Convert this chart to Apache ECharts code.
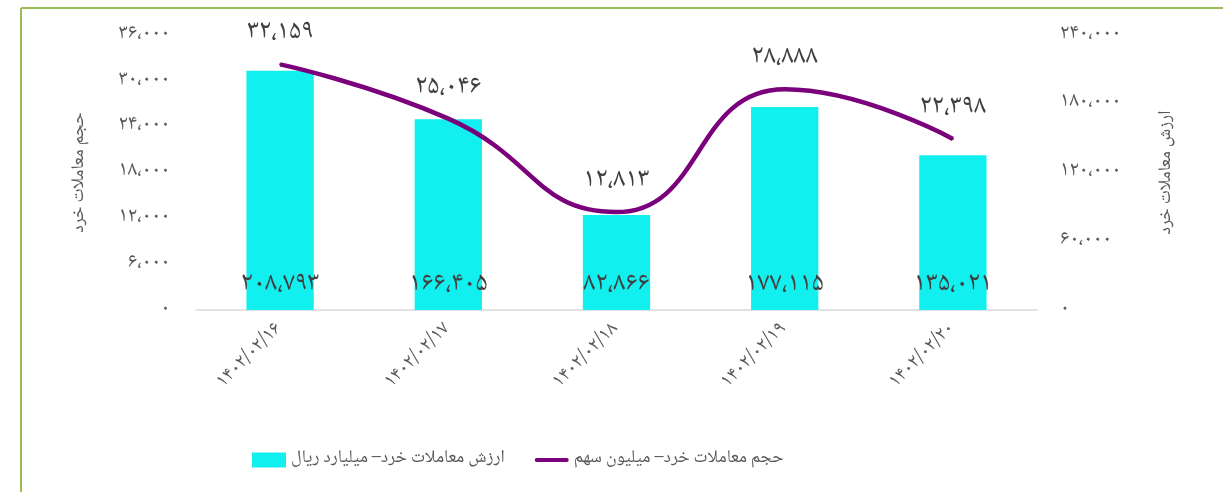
<!DOCTYPE html>
<html>
<head>
<meta charset="utf-8">
<script src="https://cdn.jsdelivr.net/npm/echarts@6/dist/echarts.min.js"></script>
<style>
html,body{margin:0;padding:0;background:#fff;}
#main{width:1223px;height:492px;}
</style>
</head>
<body>
<div id="main"></div>
<script>
var categories = ['۱۴۰۲/۰۲/۱۶', '۱۴۰۲/۰۲/۱۷', '۱۴۰۲/۰۲/۱۸', '۱۴۰۲/۰۲/۱۹', '۱۴۰۲/۰۲/۲۰'];
var tradeValue = [208793, 166405, 82866, 177115, 135021];   // ارزش معاملات خرد – میلیارد ریال
var tradeVolume = [32159, 25046, 12813, 28888, 22398];      // حجم معاملات خرد – میلیون سهم
var leftTicks = { min: 0, max: 36000, interval: 6000 };
var rightTicks = { min: 0, max: 240000, interval: 60000 };

var barName = 'ارزش معاملات خرد– میلیارد ریال';
var lineName = 'حجم معاملات خرد– میلیون سهم';

var FONT = '"Noto Naskh Arabic","Noto Sans Arabic","DejaVu Sans",sans-serif';

function toFa(n) {
  var s = String(Math.round(n)).replace(/\B(?=(\d{3})+(?!\d))/g, '،');
  return s.replace(/\d/g, function (d) { return '۰۱۲۳۴۵۶۷۸۹'[+d]; });
}

var chart = echarts.init(document.getElementById('main'), null, { renderer: 'canvas' });
chart.setOption({
  backgroundColor: '#ffffff',
  animation: false,
  textStyle: { fontFamily: FONT },
  graphic: [
    { type: 'line', shape: { x1: 21, y1: 8, x2: 21, y2: 492 }, style: { stroke: '#9BBB59', lineWidth: 2 } },
    { type: 'line', shape: { x1: 21, y1: 8, x2: 1223, y2: 8 }, style: { stroke: '#9BBB59', lineWidth: 2 } }
  ],
  grid: { left: 196, right: 186, top: 35, bottom: 182, containLabel: false },
  legend: {
    left: 247, top: 446,
    itemWidth: 34, itemHeight: 15, itemGap: 30,
    textStyle: { color: '#595959', fontSize: 18, fontFamily: FONT },
    data: [
      { name: barName, icon: 'rect' },
      { name: lineName, icon: 'path://M2,0 L38,0 A2.5,2.5 0 0 1 38,5 L2,5 A2.5,2.5 0 0 1 2,0 Z', itemStyle: { color: '#7B007B', opacity: 1 } }
    ]
  },
  xAxis: {
    type: 'category',
    data: categories,
    axisLine: { lineStyle: { color: '#D9D9D9', width: 1.5 } },
    axisTick: { show: false },
    axisLabel: { rotate: 45, color: '#595959', fontSize: 20, margin: 17, fontFamily: FONT }
  },
  yAxis: [
    {
      type: 'value', position: 'left',
      min: leftTicks.min, max: leftTicks.max, interval: leftTicks.interval,
      name: 'حجم معاملات خرد', nameLocation: 'middle', nameRotate: 90, nameGap: 106,
      nameTextStyle: { color: '#595959', fontSize: 18, fontFamily: FONT },
      axisLine: { show: false }, axisTick: { show: false }, splitLine: { show: false },
      axisLabel: { color: '#595959', fontSize: 21, margin: 26, formatter: toFa, fontFamily: FONT }
    },
    {
      type: 'value', position: 'right',
      min: rightTicks.min, max: rightTicks.max, interval: rightTicks.interval,
      name: 'ارزش معاملات خرد', nameLocation: 'middle', nameRotate: 90, nameGap: 122,
      nameTextStyle: { color: '#595959', fontSize: 18, fontFamily: FONT },
      axisLine: { show: false }, axisTick: { show: false }, splitLine: { show: false },
      axisLabel: { color: '#595959', fontSize: 21, margin: 23, formatter: toFa, fontFamily: FONT }
    }
  ],
  series: [
    {
      name: barName, type: 'bar', yAxisIndex: 1,
      data: tradeValue, barWidth: '40%',
      itemStyle: { color: '#11EFEF' },
      label: {
        show: true, position: 'insideBottom', distance: 10,
        color: '#404040', fontSize: 27, fontFamily: FONT,
        formatter: function (p) { return toFa(p.value); }
      }
    },
    {
      name: lineName, type: 'line', yAxisIndex: 0,
      data: tradeVolume, smooth: 0.5,
      symbol: 'circle', symbolSize: 2, showSymbol: true,
      lineStyle: { color: '#7B007B', width: 4.5 },
      itemStyle: { color: '#7B007B' },
      label: {
        show: true, position: 'top', distance: 15,
        color: '#404040', fontSize: 27, fontFamily: FONT,
        formatter: function (p) { return toFa(p.value); }
      },
      labelLayout: { hideOverlap: false }
    }
  ]
});
</script>
</body>
</html>
